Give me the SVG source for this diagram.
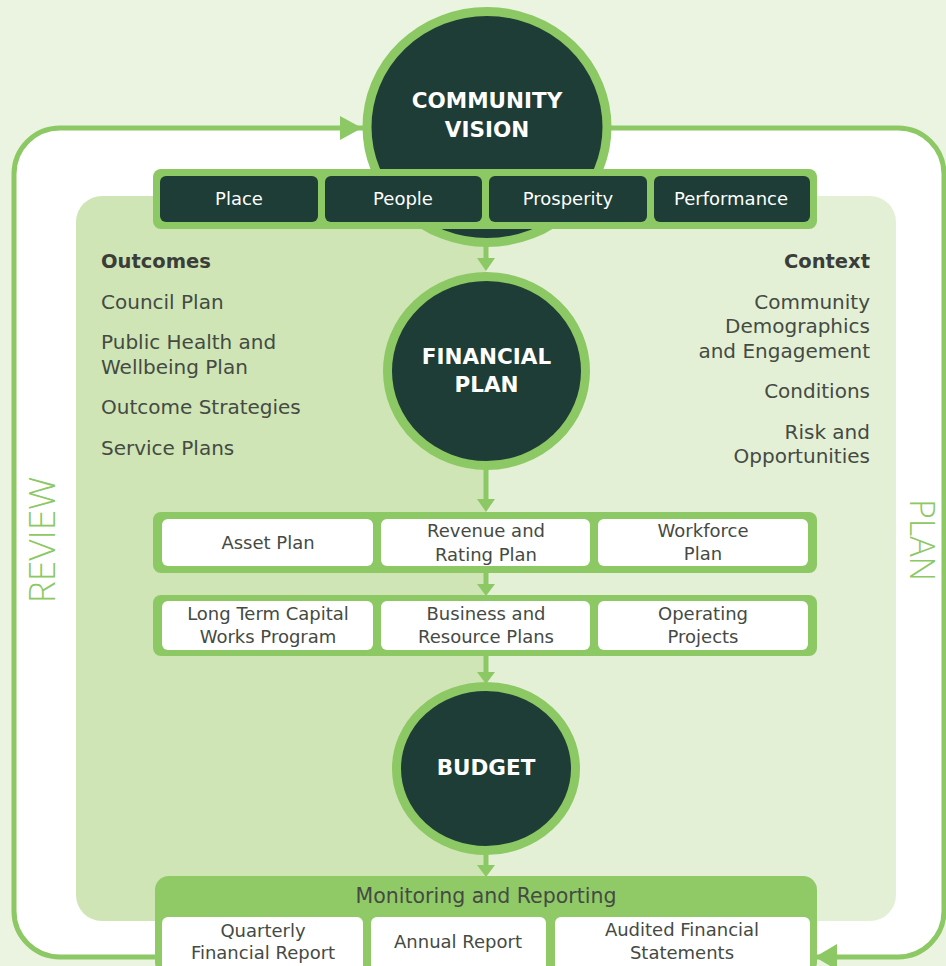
<svg xmlns="http://www.w3.org/2000/svg" width="946" height="966" viewBox="0 0 946 966">
<defs>
<style>
.t{font-family:"DejaVu Sans","Liberation Sans",sans-serif;fill:#454a43;}
.c{text-anchor:middle;}
.e{text-anchor:end;}
.b{font-weight:bold;fill:#3a3d38;}
.w{font-family:"DejaVu Sans","Liberation Sans",sans-serif;fill:#ffffff;text-anchor:middle;}
.h{font-weight:bold;font-size:21.5px;}
.ring{fill:#1e3d37;stroke:#8cc864;stroke-width:9;}
.dark{fill:#1e3d37;}
.bar{fill:#8cc864;}
.box{fill:#ffffff;}
.ln{stroke:#8cc864;stroke-width:5;fill:none;}
.arr{fill:#8cc864;}
.side{font-family:"Open Sans","Liberation Sans",sans-serif;font-weight:300;fill:#8cc864;text-anchor:middle;}
</style>
<clipPath id="panelClip"><rect x="76" y="196" width="820" height="725" rx="26"/></clipPath>
</defs>
<rect width="946" height="966" fill="#eaf4e1"/>
<!-- outer loop -->
<g id="loop">
<rect x="14" y="128" width="930" height="829" rx="46" fill="#ffffff" stroke="#8cc864" stroke-width="5"/>
</g>
<!-- inner panel -->
<g id="panel" clip-path="url(#panelClip)">
<rect x="76" y="196" width="410" height="725" fill="#cfe5b5"/>
<rect x="486" y="196" width="410" height="725" fill="#e3f0d6"/>
</g>
<text class="side" font-size="37" transform="translate(55 540) rotate(-90)">REVIEW</text>
<text class="side" font-size="34" transform="translate(910 540) rotate(90)">PLAN</text>
<!-- connectors -->
<g id="connectors">
<line class="ln" x1="486" y1="240" x2="486" y2="262"/>
<polygon class="arr" points="477,258 495,258 486,271"/>
<line class="ln" x1="486" y1="465" x2="486" y2="502"/>
<polygon class="arr" points="477,499 495,499 486,512"/>
<line class="ln" x1="486" y1="572" x2="486" y2="588"/>
<polygon class="arr" points="477,584 495,584 486,596"/>
<line class="ln" x1="486" y1="655" x2="486" y2="676"/>
<polygon class="arr" points="477,672 495,672 486,684"/>
<line class="ln" x1="486" y1="852" x2="486" y2="868"/>
<polygon class="arr" points="477,865 495,865 486,877"/>
<polygon class="arr" points="340,116 340,140 362,128"/>
<polygon class="arr" points="815,957 837,944 837,970"/>
</g>
<!-- Outcomes -->
<g id="outcomes">
<text class="t b" x="101" y="268" font-size="19.5">Outcomes</text>
<text class="t" x="101" y="309" font-size="20">Council Plan</text>
<text class="t" x="101" y="349" font-size="20">Public Health and</text>
<text class="t" x="101" y="374" font-size="20">Wellbeing Plan</text>
<text class="t" x="101" y="414" font-size="20">Outcome Strategies</text>
<text class="t" x="101" y="455" font-size="20">Service Plans</text>
</g>
<!-- Context -->
<g id="context">
<text class="t b e" x="870" y="268" font-size="19.5">Context</text>
<text class="t e" x="870" y="309" font-size="20">Community</text>
<text class="t e" x="870" y="333" font-size="20">Demographics</text>
<text class="t e" x="870" y="358" font-size="20">and Engagement</text>
<text class="t e" x="870" y="398" font-size="20">Conditions</text>
<text class="t e" x="870" y="439" font-size="20">Risk and</text>
<text class="t e" x="870" y="463" font-size="20">Opportunities</text>
</g>
<!-- Community Vision -->
<g id="community-vision">
<ellipse class="ring" cx="487" cy="127" rx="120" ry="115.5"/>
<text class="w h" x="487" y="108">COMMUNITY</text>
<text class="w h" x="487" y="137">VISION</text>
</g>
<g id="pillars">
<rect class="bar" x="153" y="169" width="664" height="60" rx="8"/>
<rect class="dark" x="160" y="176" width="158" height="46" rx="6"/>
<rect class="dark" x="325" y="176" width="157" height="46" rx="6"/>
<rect class="dark" x="489" y="176" width="158" height="46" rx="6"/>
<rect class="dark" x="654" y="176" width="156" height="46" rx="6"/>
<text class="w" x="239" y="205" font-size="18">Place</text>
<text class="w" x="403" y="205" font-size="18">People</text>
<text class="w" x="568" y="205" font-size="18">Prosperity</text>
<text class="w" x="731" y="205" font-size="18">Performance</text>
</g>
<!-- Financial Plan -->
<g id="financial-plan">
<ellipse class="ring" cx="486.5" cy="371" rx="99" ry="94.5"/>
<text class="w h" x="486.5" y="364">FINANCIAL</text>
<text class="w h" x="486.5" y="392">PLAN</text>
</g>
<!-- Row 1 -->
<g id="plans-row-1">
<rect class="bar" x="153" y="512" width="664" height="61" rx="8"/>
<rect class="box" x="162" y="519" width="211" height="47" rx="6"/>
<rect class="box" x="381" y="519" width="209" height="47" rx="6"/>
<rect class="box" x="598" y="519" width="210" height="47" rx="6"/>
<text class="t c" x="268" y="549" font-size="18">Asset Plan</text>
<text class="t c" x="486" y="537" font-size="18">Revenue and</text>
<text class="t c" x="486" y="561" font-size="18">Rating Plan</text>
<text class="t c" x="703" y="537" font-size="18">Workforce</text>
<text class="t c" x="703" y="560" font-size="18">Plan</text>
</g>
<!-- Row 2 -->
<g id="plans-row-2">
<rect class="bar" x="153" y="595" width="664" height="61" rx="8"/>
<rect class="box" x="162" y="601" width="211" height="49" rx="6"/>
<rect class="box" x="381" y="601" width="209" height="49" rx="6"/>
<rect class="box" x="598" y="601" width="210" height="49" rx="6"/>
<text class="t c" x="268" y="620" font-size="18">Long Term Capital</text>
<text class="t c" x="268" y="643" font-size="18">Works Program</text>
<text class="t c" x="486" y="620" font-size="18">Business and</text>
<text class="t c" x="486" y="643" font-size="18">Resource Plans</text>
<text class="t c" x="703" y="620" font-size="18">Operating</text>
<text class="t c" x="703" y="643" font-size="18">Projects</text>
</g>
<!-- Budget -->
<g id="budget">
<ellipse class="ring" cx="486" cy="768.5" rx="89.5" ry="82"/>
<text class="w h" x="486" y="775">BUDGET</text>
</g>
<!-- Monitoring -->
<g id="monitoring">
<rect x="155" y="876" width="662" height="100" rx="14" fill="#8fca67"/>
<text class="t c" x="486" y="903" font-size="20.5" fill="#3c4a35">Monitoring and Reporting</text>
<rect class="box" x="162" y="917" width="201" height="60" rx="6"/>
<rect class="box" x="371" y="917" width="175" height="60" rx="6"/>
<rect class="box" x="555" y="917" width="255" height="60" rx="6"/>
<text class="t c" x="263" y="937" font-size="18">Quarterly</text>
<text class="t c" x="263" y="959" font-size="18">Financial Report</text>
<text class="t c" x="458" y="948" font-size="18">Annual Report</text>
<text class="t c" x="682" y="936" font-size="18">Audited Financial</text>
<text class="t c" x="682" y="959" font-size="18">Statements</text>
</g>
</svg>
